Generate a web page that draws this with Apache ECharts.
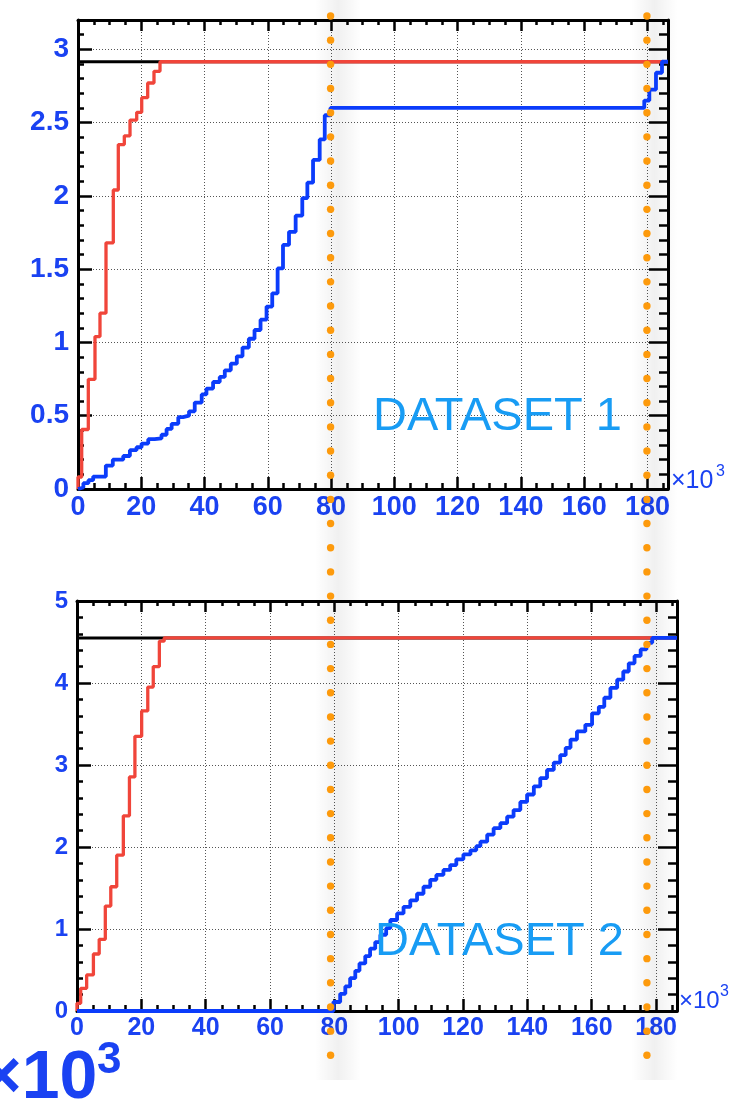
<!DOCTYPE html>
<html>
<head>
<meta charset="utf-8">
<script src="https://cdn.jsdelivr.net/npm/echarts@6/dist/echarts.min.js"></script>
<style>
  html, body { margin: 0; padding: 0; background: #fff; }
  #chart { width: 739px; height: 1115px; }
</style>
</head>
<body>
<div id="chart"></div>
<script>
// ---- Data (x in units of 10^3) ----
// Each step list: at x[i] the cumulative value becomes y[i].

// Dataset 1
const set1Total = 2.915;
const set1RedX = [0, 0, 1.17, 3.26, 5.37, 6.95, 8.85, 11.16, 12.74, 14.64, 16.44, 18.56, 20.14, 22.03, 24.02, 25.92, 186.5];
const set1RedY = [0, 0.082, 0.406, 0.748, 1.04, 1.20, 1.68, 2.04, 2.35, 2.41, 2.517, 2.57, 2.67, 2.77, 2.85, 2.915, 2.915];
const set1BlueX = [0, 0.1, 1.7, 3.3, 4.8, 8.8, 11.0, 14.3, 16.4, 18.5, 20.1, 22.2, 24.2, 26.4, 28.0, 29.6, 31.7, 33.2, 35.1, 36.9,
                   39.1, 40.6, 42.7, 44.8, 46.4, 48.3, 50.2, 52.0, 54.0, 55.8, 57.7, 59.6, 61.4, 63.1, 64.8, 66.7, 68.8, 70.9,
                   72.5, 74.3, 76.4, 78.0, 79.8, 179.0, 180.6, 182.7, 184.6, 186.5];
const set1BlueY = [0, 0.01, 0.04, 0.06, 0.085, 0.16, 0.20, 0.225, 0.265, 0.285, 0.31, 0.34, 0.345, 0.37, 0.41, 0.445, 0.49, 0.50, 0.53, 0.59,
                   0.645, 0.685, 0.73, 0.765, 0.81, 0.855, 0.905, 0.965, 1.025, 1.085, 1.155, 1.245, 1.335, 1.505, 1.665, 1.755, 1.865, 1.985,
                   2.09, 2.245, 2.385, 2.55, 2.60, 2.65, 2.725, 2.84, 2.915, 2.915];

// Dataset 2
const set2Total = 4.55;
const set2RedX = [0, 0, 1.15, 3.0, 5.1, 6.9, 8.8, 10.5, 12.35, 14.4, 16.3, 18.0, 20.1, 22.0, 23.7, 25.6, 27.1, 186.5];
const set2RedY = [0, 0.094, 0.277, 0.44, 0.695, 0.874, 1.28, 1.515, 1.90, 2.38, 2.855, 3.35, 3.66, 3.95, 4.20, 4.51, 4.55, 4.55];
const set2BlueX = [0, 79.7, 81.8, 83.4, 84.9, 86.5, 87.8, 89.6, 91.1, 92.7, 94.3, 96.1, 97.4, 99.5, 101.5, 103.6, 105.7, 107.7, 109.8,
                   111.7, 113.9, 116.0, 117.9, 120.1, 122.3, 124.1, 125.4, 127.5, 129.5, 131.6, 133.7, 135.7, 137.8, 139.9, 142.0,
                   144.0, 146.1, 148.2, 150.2, 151.9, 153.4, 155.4, 158.0, 160.1, 162.2, 163.9, 165.8, 167.9, 169.8, 171.5, 173.3,
                   175.2, 177.0, 178.8, 186.5];
const set2BlueY = [0, 0.11, 0.21, 0.30, 0.40, 0.49, 0.58, 0.67, 0.76, 0.84, 0.93, 1.01, 1.11, 1.19, 1.27, 1.35, 1.43, 1.515, 1.60,
                   1.66, 1.72, 1.78, 1.85, 1.91, 1.96, 2.01, 2.065, 2.15, 2.23, 2.29, 2.37, 2.45, 2.55, 2.64, 2.74,
                   2.84, 2.94, 3.03, 3.12, 3.21, 3.31, 3.41, 3.49, 3.63, 3.71, 3.82, 3.94, 4.04, 4.14, 4.24, 4.33,
                   4.41, 4.49, 4.55, 4.55];

// Axis ranges
const xMax = 186.5;
const xMajor = 20, xMinor = 5;
const set1YMax = 3.2, set1YMajor = 0.5, set1YMinor = 0.1;
const set2YMax = 5, set2YMajor = 1, set2YMinor = 0.2;

// Vertical reference lines (x, 10^3)
const markerX = [80, 180];

// Panel labels
const panelLabels = ['DATASET 1', 'DATASET 2'];

// ---- Styles ----
const FONT = 'Liberation Sans';
const AXIS_BLUE = '#1a42f2';
const TEXT_BLUE = '#189cf4';
const RED = '#f0453a';
const BLUE = '#0b3cfb';
const FRAME = '#000';
const GRID_LINE = { color: '#555', width: 1, type: [1, 2] };

function xAxesFor(g, labelSize) {
  const base = { type: 'value', gridIndex: g, min: 0, max: xMax, splitLine: { show: false },
                 axisLabel: { show: false }, axisLine: { show: false, onZero: false } };
  const tick = (len) => ({ show: true, inside: true, length: len, lineStyle: { color: FRAME, width: 2.5 } });
  return [
    Object.assign({}, base, {
      position: 'bottom', interval: xMajor,
      axisLine: { show: true, onZero: false, lineStyle: { color: FRAME, width: 3 } },
      axisTick: tick(12),
      axisLabel: { show: true, showMinLabel: true, showMaxLabel: false, margin: 5, color: AXIS_BLUE,
                   fontSize: labelSize, fontWeight: 'bold', fontFamily: FONT },
      splitLine: { show: true, lineStyle: GRID_LINE }
    }),
    Object.assign({}, base, { position: 'bottom', interval: xMinor, axisTick: tick(6) }),
    Object.assign({}, base, {
      position: 'top', interval: xMajor,
      axisLine: { show: true, onZero: false, lineStyle: { color: FRAME, width: 3 } },
      axisTick: tick(11)
    }),
    Object.assign({}, base, { position: 'top', interval: xMinor, axisTick: tick(5) })
  ];
}

function yAxesFor(g, yMax, major, minor, labelSize, showMax) {
  const base = { type: 'value', gridIndex: g, min: 0, max: yMax, splitLine: { show: false },
                 axisLabel: { show: false }, axisLine: { show: false, onZero: false } };
  const tick = (len) => ({ show: true, inside: true, length: len, lineStyle: { color: FRAME, width: 2.5 } });
  return [
    Object.assign({}, base, {
      position: 'left', interval: major,
      axisLine: { show: true, onZero: false, lineStyle: { color: FRAME, width: 3 } },
      axisTick: tick(14),
      axisLabel: { show: true, showMinLabel: true, showMaxLabel: showMax, margin: 9, color: AXIS_BLUE,
                   fontSize: labelSize, fontWeight: 'bold', fontFamily: FONT },
      splitLine: { show: true, lineStyle: GRID_LINE }
    }),
    Object.assign({}, base, { position: 'left', interval: minor, axisTick: tick(6) }),
    Object.assign({}, base, {
      position: 'right', interval: major,
      axisLine: { show: true, onZero: false, lineStyle: { color: FRAME, width: 3 } },
      axisTick: tick(19)
    }),
    Object.assign({}, base, { position: 'right', interval: minor, axisTick: tick(9) })
  ];
}

function zip(xs, ys) { return xs.map((x, i) => [x, ys[i]]); }

function stepSeries(g, xs, ys, color, width, z) {
  return {
    type: 'line', xAxisIndex: g * 4, yAxisIndex: g * 4, step: 'end',
    data: zip(xs, ys), symbol: 'none', showSymbol: false,
    lineStyle: { color: color, width: width }, z: z, animation: false, silent: true
  };
}

function totalSeries(g, total) {
  return {
    type: 'line', xAxisIndex: g * 4, yAxisIndex: g * 4,
    data: [[0, total], [xMax, total]], symbol: 'none', showSymbol: false,
    lineStyle: { color: FRAME, width: 3 }, z: 3, animation: false, silent: true
  };
}

const chart = echarts.init(document.getElementById('chart'), null, { renderer: 'canvas' });

chart.setOption({
  backgroundColor: '#fff',
  animation: false,
  grid: [
    { left: 78, top: 20, width: 590, height: 469, outerBoundsMode: 'none', containLabel: false },
    { left: 77, top: 601, width: 600, height: 410, outerBoundsMode: 'none', containLabel: false }
  ],
  xAxis: [].concat(xAxesFor(0, 27), xAxesFor(1, 25)),
  yAxis: [].concat(
    yAxesFor(0, set1YMax, set1YMajor, set1YMinor, 28, false),
    yAxesFor(1, set2YMax, set2YMajor, set2YMinor, 24, true)
  ),
  series: [
    totalSeries(0, set1Total),
    stepSeries(0, set1RedX, set1RedY, RED, 3.3, 4),
    stepSeries(0, set1BlueX, set1BlueY, BLUE, 3.8, 5),
    totalSeries(1, set2Total),
    stepSeries(1, set2RedX, set2RedY, RED, 3.3, 4),
    stepSeries(1, set2BlueX, set2BlueY, BLUE, 3.8, 5)
  ]
});

// ---- Overlays: shaded bands + dotted orange markers, panel captions, exponent labels ----
const graphics = [];
const markerPx = markerX.map(v => chart.convertToPixel({ xAxisIndex: 0 }, v));

markerPx.forEach(px => {
  graphics.push({
    type: 'rect', silent: true, z: 1,
    shape: { x: px - 16, y: 0, width: 46, height: 1080 },
    style: {
      fill: new echarts.graphic.LinearGradient(0, 0, 1, 0, [
        { offset: 0, color: 'rgba(0,0,0,0)' },
        { offset: 0.5, color: 'rgba(0,0,0,0.06)' },
        { offset: 1, color: 'rgba(0,0,0,0)' }
      ])
    }
  });
});

markerPx.forEach(px => {
  for (let y = 16; y <= 1062; y += 24.17) {
    graphics.push({
      type: 'circle', silent: true, z: 200,
      shape: { cx: px - 0.5, cy: y, r: 3.7 },
      style: { fill: '#fd9a0c' }
    });
  }
});

function label(text, x, y, size, weight, color, align) {
  return {
    type: 'text', silent: true, z: 150, x: x, y: y,
    style: {
      text: text, fill: color, fontSize: size, fontWeight: weight, fontFamily: FONT,
      align: align || 'left', verticalAlign: 'middle'
    }
  };
}

graphics.push(label(panelLabels[0], 373, 417, 47, 'normal', TEXT_BLUE));
graphics.push(label(panelLabels[1], 375, 942, 47, 'normal', TEXT_BLUE));

// exponent tags at the x-axis ends
graphics.push(label('\u00d710', 671, 481, 25, 'normal', AXIS_BLUE));
graphics.push(label('3', 716, 472, 16, 'normal', AXIS_BLUE));
graphics.push(label('\u00d710', 679, 1001, 24, 'normal', AXIS_BLUE));
graphics.push(label('3', 720, 992, 16, 'normal', AXIS_BLUE));

// large exponent tag, bottom left
graphics.push(label('\u00d710', -18, 1079, 68, 'bold', AXIS_BLUE));
graphics.push(label('3', 97, 1061, 44, 'bold', AXIS_BLUE));

chart.setOption({ graphic: graphics });
</script>
</body>
</html>
